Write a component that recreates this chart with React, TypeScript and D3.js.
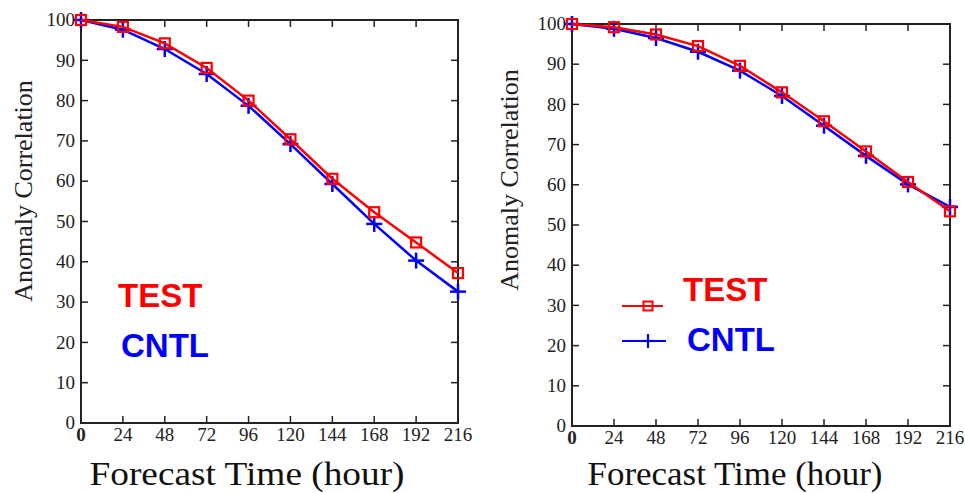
import React from "react";
import * as d3 from "d3";

const hours = [0, 24, 48, 72, 96, 120, 144, 168, 192, 216];
const yTicks = [0, 10, 20, 30, 40, 50, 60, 70, 80, 90, 100];
const leftTest = [100, 98.3, 94.2, 88.1, 80.0, 70.4, 60.6, 52.3, 44.8, 37.2];
const leftCntl = [100, 97.6, 92.8, 86.6, 78.7, 69.2, 59.3, 49.4, 40.3, 32.6];
const rightTest = [100, 99.2, 97.4, 94.5, 89.6, 83.0, 75.8, 68.3, 60.7, 53.4];
const rightCntl = [100, 98.8, 96.5, 93.1, 88.4, 82.1, 74.7, 67.2, 60.1, 54.5];
const seriesNames = ["TEST", "CNTL"];
const xTitle = "Forecast Time (hour)";
const yTitle = "Anomaly Correlation";

const RED = "#ff0000";
const BLUE = "#0000ff";
const AXIS = "#222";

type PanelCfg = {
  x0: number; x1: number; yb: number; yt: number;
  test: number[]; cntl: number[];
  yLabel: { x: number; y: number };
  xLabel: { x: number; y: number; len: number };
  legend: { tx: number; ty: number; cx: number; cy: number; symbols: boolean };
};

const panels: PanelCfg[] = [
  {
    x0: 81, x1: 458, yb: 423, yt: 20,
    test: leftTest, cntl: leftCntl,
    yLabel: { x: 32, y: 191 },
    xLabel: { x: 247, y: 485, len: 315 },
    legend: { tx: 118, ty: 307, cx: 121, cy: 357, symbols: false },
  },
  {
    x0: 572, x1: 950, yb: 426, yt: 24,
    test: rightTest, cntl: rightCntl,
    yLabel: { x: 518, y: 180 },
    xLabel: { x: 735, y: 485, len: 295 },
    legend: { tx: 683, ty: 301, cx: 687, cy: 351, symbols: true },
  },
];

function Square({ x, y, s, w }: { x: number; y: number; s: number; w: number }) {
  return <rect x={x - s / 2} y={y - s / 2} width={s} height={s} fill="none" stroke={RED} strokeWidth={w} />;
}
function Plus({ x, y, s, w }: { x: number; y: number; s: number; w: number }) {
  return (
    <g stroke={BLUE} strokeWidth={w}>
      <line x1={x - s / 2} x2={x + s / 2} y1={y} y2={y} />
      <line x1={x} x2={x} y1={y - s / 2} y2={y + s / 2} />
    </g>
  );
}

function Panel({ p }: { p: PanelCfg }) {
  const xs = d3.scaleLinear().domain([0, 216]).range([p.x0, p.x1]);
  const ys = d3.scaleLinear().domain([0, 100]).range([p.yb, p.yt]);
  const line = d3.line<number>().x((_, i) => xs(hours[i])).y((d) => ys(d));
  const tl = 7;
  return (
    <g>
      <g stroke={AXIS} strokeWidth={1.5}>
        {hours.slice(1, -1).map((h) => (
          <g key={"xt" + h}>
            <line x1={xs(h)} x2={xs(h)} y1={p.yb} y2={p.yb - tl} />
            <line x1={xs(h)} x2={xs(h)} y1={p.yt} y2={p.yt + tl} />
          </g>
        ))}
        {yTicks.slice(1, -1).map((v) => (
          <g key={"yt" + v}>
            <line x1={p.x0} x2={p.x0 + tl} y1={ys(v)} y2={ys(v)} />
            <line x1={p.x1} x2={p.x1 - tl} y1={ys(v)} y2={ys(v)} />
          </g>
        ))}
      </g>
      <rect x={p.x0} y={p.yt} width={p.x1 - p.x0} height={p.yb - p.yt} fill="none" stroke={AXIS} strokeWidth={2} />
      <g fontFamily="Liberation Serif" fontSize={19} fill={AXIS}>
        {hours.map((h) => (
          <text key={"xl" + h} x={xs(h)} y={p.yb + 18} textAnchor="middle" fontWeight={h === 0 ? "bold" : "normal"}>{h}</text>
        ))}
        {yTicks.map((v) => (
          <text key={"yl" + v} x={p.x0 - 6} y={ys(v)} dy="0.33em" textAnchor="end">{v}</text>
        ))}
      </g>
      <path d={line(p.cntl) || ""} fill="none" stroke={BLUE} strokeWidth={2.5} />
      {p.cntl.map((v, i) => (
        <Plus key={"c" + i} x={xs(hours[i])} y={ys(v)} s={16} w={2.5} />
      ))}
      <path d={line(p.test) || ""} fill="none" stroke={RED} strokeWidth={2.5} />
      {p.test.map((v, i) => (
        <Square key={"t" + i} x={xs(hours[i])} y={ys(v)} s={10} w={2.2} />
      ))}
      <text x={p.xLabel.x} y={p.xLabel.y} textAnchor="middle" fontFamily="Liberation Serif" fontSize={34} fill="#111" textLength={p.xLabel.len} lengthAdjust="spacingAndGlyphs">{xTitle}</text>
      <text transform={`translate(${p.yLabel.x},${p.yLabel.y}) rotate(-90)`} textAnchor="middle" fontFamily="Liberation Serif" fontSize={26} fill="#222">{yTitle}</text>
      <g fontFamily="Liberation Sans" fontWeight="bold" fontSize={33}>
        <text x={p.legend.tx} y={p.legend.ty} fill={RED}>{seriesNames[0]}</text>
        <text x={p.legend.cx} y={p.legend.cy} fill={BLUE}>{seriesNames[1]}</text>
      </g>
      {p.legend.symbols && (
        <g>
          <line x1={622} x2={663} y1={306} y2={306} stroke={RED} strokeWidth={2} />
          <Square x={648} y={306} s={9} w={2} />
          <line x1={622} x2={666} y1={341} y2={341} stroke={BLUE} strokeWidth={2} />
          <Plus x={648} y={341} s={14} w={2.2} />
        </g>
      )}
    </g>
  );
}

export default function App() {
  return (
    <svg width={965} height={493} style={{ position: "absolute", left: 0, top: 0, background: "#fff" }}>
      <rect width={965} height={493} fill="#fff" />
      {panels.map((p, i) => (
        <Panel key={i} p={p} />
      ))}
    </svg>
  );
}
